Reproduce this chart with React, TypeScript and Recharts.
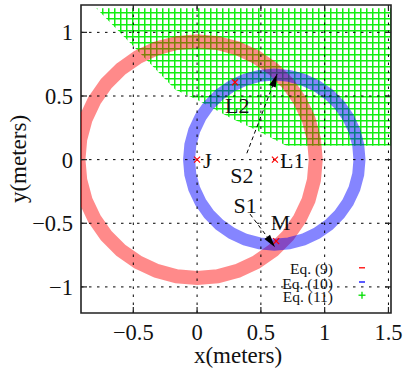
import React from 'react';
import { ComposedChart, Line, Area, Scatter, XAxis, YAxis, ReferenceLine, ReferenceArea, Legend } from 'recharts';

const xTicks = [-0.5, 0, 0.5, 1, 1.5];
const yTicks = [-1, -0.5, 0, 0.5, 1];
const xDomain = [-0.91, 1.52];
const yDomain = [-1.205, 1.215];

// Eq. (9): ring of points around J
const ringEq9 = [
  { x: 0.93, y: 0 }, { x: 0.916, y: 0.161 }, { x: 0.874, y: 0.318 }, { x: 0.805, y: 0.465 },
  { x: 0.712, y: 0.598 }, { x: 0.598, y: 0.712 }, { x: 0.465, y: 0.805 }, { x: 0.318, y: 0.874 },
  { x: 0.161, y: 0.916 }, { x: 0, y: 0.93 }, { x: -0.161, y: 0.916 }, { x: -0.318, y: 0.874 },
  { x: -0.465, y: 0.805 }, { x: -0.598, y: 0.712 }, { x: -0.712, y: 0.598 }, { x: -0.805, y: 0.465 },
  { x: -0.874, y: 0.318 }, { x: -0.916, y: 0.161 }, { x: -0.93, y: 0 }, { x: -0.916, y: -0.161 },
  { x: -0.874, y: -0.318 }, { x: -0.805, y: -0.465 }, { x: -0.712, y: -0.598 }, { x: -0.598, y: -0.712 },
  { x: -0.465, y: -0.805 }, { x: -0.318, y: -0.874 }, { x: -0.161, y: -0.916 }, { x: 0, y: -0.93 },
  { x: 0.161, y: -0.916 }, { x: 0.318, y: -0.874 }, { x: 0.465, y: -0.805 }, { x: 0.598, y: -0.712 },
  { x: 0.712, y: -0.598 }, { x: 0.805, y: -0.465 }, { x: 0.874, y: -0.318 }, { x: 0.916, y: -0.161 },
];

// Eq. (10): ring of points around L1
const ringEq10 = [
  { x: 1.273, y: 0 }, { x: 1.263, y: 0.116 }, { x: 1.233, y: 0.228 }, { x: 1.183, y: 0.334 },
  { x: 1.117, y: 0.429 }, { x: 1.034, y: 0.512 }, { x: 0.939, y: 0.578 }, { x: 0.833, y: 0.628 },
  { x: 0.721, y: 0.658 }, { x: 0.605, y: 0.668 }, { x: 0.489, y: 0.658 }, { x: 0.377, y: 0.628 },
  { x: 0.271, y: 0.578 }, { x: 0.176, y: 0.512 }, { x: 0.093, y: 0.429 }, { x: 0.027, y: 0.334 },
  { x: -0.023, y: 0.228 }, { x: -0.053, y: 0.116 }, { x: -0.063, y: 0 }, { x: -0.053, y: -0.116 },
  { x: -0.023, y: -0.228 }, { x: 0.027, y: -0.334 }, { x: 0.093, y: -0.429 }, { x: 0.176, y: -0.512 },
  { x: 0.271, y: -0.578 }, { x: 0.377, y: -0.628 }, { x: 0.489, y: -0.658 }, { x: 0.605, y: -0.668 },
  { x: 0.721, y: -0.658 }, { x: 0.833, y: -0.628 }, { x: 0.939, y: -0.578 }, { x: 1.034, y: -0.512 },
  { x: 1.117, y: -0.429 }, { x: 1.183, y: -0.334 }, { x: 1.233, y: -0.228 }, { x: 1.263, y: -0.116 },
];

// Eq. (11): lower boundary of the hatched region (region extends up to regionTop)
const regionEq11 = [
  { x: -0.79, y: 1.19 }, { x: -0.45, y: 0.84 }, { x: -0.17, y: 0.55 }, { x: 0.0, y: 0.47 },
  { x: 0.26, y: 0.33 }, { x: 0.49, y: 0.22 }, { x: 0.7, y: 0.11 }, { x: 1.52, y: 0.11 },
];
const regionTop = 1.19;

const markers = [
  { x: 0, y: 0 }, { x: 0.61, y: 0 }, { x: 0.297, y: 0.608 }, { x: 0.62, y: -0.64 },
];
const labels = [
  { x: 0.047, y: -0.069, text: 'J' },
  { x: 0.65, y: -0.069, text: 'L1' },
  { x: 0.219, y: 0.363, text: 'L2' },
  { x: 0.26, y: -0.185, text: 'S2' },
  { x: 0.285, y: -0.423, text: 'S1' },
  { x: 0.578, y: -0.554, text: 'M' },
];
const arrowS1 = [{ x: 0.415, y: -0.428 }, { x: 0.611, y: -0.688 }];
const arrowS2 = [{ x: 0.39, y: 0.05 }, { x: 0.627, y: 0.672 }];
const arrowHeads = [
  { x: 0.611, y: -0.688, fx: 0.415, fy: -0.428 },
  { x: 0.627, y: 0.672, fx: 0.39, fy: 0.05 },
];
const legendItems = [
  { name: 'Eq. (9)', color: '#ff0000', symbol: 'dash' },
  { name: 'Eq. (10)', color: '#0000ff', symbol: 'dash' },
  { name: 'Eq. (11)', color: '#00dd00', symbol: 'plus' },
];

const W = 403;
const H = 370;
const AXW = 81;
const AXH = 57;
const M = { top: 5, right: 12, bottom: 0, left: 0 };
const PW = W - AXW - M.right;
const PH = H - M.top - AXH;
const FONT = '"Liberation Serif", "Times New Roman", serif';

const fmt = (v: number) => (v < 0 ? '\u2212' + String(Math.abs(v)) : String(v));

const XTick = (props: any) => {
  const { x, y, payload } = props;
  return (
    <g>
      <line x1={x} x2={x} y1={y} y2={y - 6} stroke="#222" strokeWidth={1.2} />
      <line x1={x} x2={x} y1={y - PH} y2={y - PH + 6} stroke="#222" strokeWidth={1.2} />
      <text x={x} y={y + 27} textAnchor="middle" fontFamily={FONT} fontSize={22.5} fill="#111">
        {fmt(payload.value)}
      </text>
    </g>
  );
};

const YTick = (props: any) => {
  const { x, y, payload } = props;
  return (
    <g>
      <line x1={x} x2={x + 6} y1={y} y2={y} stroke="#222" strokeWidth={1.2} />
      <line x1={x + PW} x2={x + PW - 6} y1={y} y2={y} stroke="#222" strokeWidth={1.2} />
      <text x={x - 8} y={y + 8} textAnchor="end" fontFamily={FONT} fontSize={22.5} fill="#111">
        {fmt(payload.value)}
      </text>
    </g>
  );
};

const CrossShape = (p: any) => {
  const { cx, cy } = p;
  const s = 3;
  return (
    <g stroke="#ff0000" strokeWidth={1.2}>
      <line x1={cx - s} y1={cy - s} x2={cx + s} y2={cy + s} />
      <line x1={cx - s} y1={cy + s} x2={cx + s} y2={cy - s} />
    </g>
  );
};

const LabelShape = (p: any) => {
  const { cx, cy, payload } = p;
  return (
    <text x={cx} y={cy} fontFamily={FONT} fontSize={22} fill="#111">
      {payload.text}
    </text>
  );
};

const HeadShape = (p: any) => {
  const { cx, cy, payload } = p;
  let dx = payload.x - payload.fx;
  let dy = -(payload.y - payload.fy);
  const n = Math.sqrt(dx * dx + dy * dy) || 1;
  dx /= n;
  dy /= n;
  const L = 13;
  const hw = 3.5;
  const bx = cx - dx * L;
  const by = cy - dy * L;
  const pts = `${cx},${cy} ${bx - dy * hw},${by + dx * hw} ${bx + dy * hw},${by - dx * hw}`;
  return <polygon points={pts} fill="#000" />;
};

const LegendBox = () => {
  const textX = 83;
  const symX = 112;
  const baselines = [18.3, 32.5, 45.7];
  return (
    <svg width={130} height={52} style={{ overflow: 'visible' }}>
      {legendItems.map((it, i) => (
        <g key={it.name}>
          <text x={textX} y={baselines[i]} textAnchor="end" fontFamily={FONT} fontSize={15.5} fill="#111">
            {it.name}
          </text>
          {it.symbol === 'dash' ? (
            <line x1={symX - 3} x2={symX + 3} y1={baselines[i] - 6.5} y2={baselines[i] - 6.5} stroke={it.color} strokeWidth={1.3} />
          ) : (
            <g stroke={it.color} strokeWidth={1.3}>
              <line x1={symX - 3.5} x2={symX + 3.5} y1={baselines[i] - 6.5} y2={baselines[i] - 6.5} />
              <line x1={symX} x2={symX} y1={baselines[i] - 10} y2={baselines[i] - 3} />
            </g>
          )}
        </g>
      ))}
    </svg>
  );
};

const renderXTick = (p: any) => <XTick {...p} />;
const renderYTick = (p: any) => <YTick {...p} />;

export default function App() {
  return (
    <div style={{ position: 'absolute', left: 0, top: 0, width: W, height: H, background: '#fff', fontFamily: FONT }}>
      <svg width={0} height={0} style={{ position: 'absolute' }}>
        <defs>
          <pattern id="hatch11" patternUnits="userSpaceOnUse" width={6} height={6}>
            <rect x={0} y={0} width={1.5} height={6} fill="#11ee11" />
            <rect x={0} y={0} width={6} height={1.5} fill="#11ee11" />
          </pattern>
        </defs>
      </svg>
      <ComposedChart width={W} height={H} margin={M}>
        <XAxis
          type="number"
          dataKey="x"
          domain={xDomain}
          allowDataOverflow
          ticks={xTicks}
          height={AXH}
          tickSize={0}
          tickMargin={0}
          tick={renderXTick}
          axisLine={false}
          tickLine={false}
          interval={0}
        />
        <YAxis
          type="number"
          dataKey="y"
          domain={yDomain}
          allowDataOverflow
          ticks={yTicks}
          width={AXW}
          tickSize={0}
          tickMargin={0}
          tick={renderYTick}
          axisLine={false}
          tickLine={false}
          interval={0}
        />
        <Area
          data={regionEq11}
          dataKey="y"
          type="linear"
          baseValue={regionTop}
          stroke="none"
          fill="url(#hatch11)"
          fillOpacity={1}
          isAnimationActive={false}
          dot={false}
          activeDot={false}
        />
        <Line
          data={ringEq9}
          dataKey="y"
          type="linearClosed"
          stroke="#ff0000"
          strokeOpacity={0.46}
          strokeWidth={14}
          dot={false}
          activeDot={false}
          isAnimationActive={false}
        />
        <Line
          data={ringEq10}
          dataKey="y"
          type="linearClosed"
          stroke="#0000ff"
          strokeOpacity={0.48}
          strokeWidth={12}
          dot={false}
          activeDot={false}
          isAnimationActive={false}
        />
        {xTicks.map((v) => (
          <ReferenceLine key={'gx' + v} x={v} stroke="#000" strokeWidth={1} strokeDasharray="2.5 5.5" />
        ))}
        {yTicks.map((v) => (
          <ReferenceLine key={'gy' + v} y={v} stroke="#000" strokeWidth={1} strokeDasharray="2.5 5.5" />
        ))}
        <Line data={arrowS1} dataKey="y" type="linear" stroke="#000" strokeWidth={1} strokeDasharray="4 3" dot={false} activeDot={false} isAnimationActive={false} />
        <Line data={arrowS2} dataKey="y" type="linear" stroke="#000" strokeWidth={1} strokeDasharray="4 3" dot={false} activeDot={false} isAnimationActive={false} />
        <Scatter data={markers} shape={CrossShape} isAnimationActive={false} />
        <Scatter data={arrowHeads} shape={HeadShape} isAnimationActive={false} />
        <Scatter data={labels} shape={LabelShape} isAnimationActive={false} />
        <ReferenceArea
          x1={xDomain[0]}
          x2={xDomain[1]}
          y1={yDomain[0]}
          y2={yDomain[1]}
          fill="none"
          fillOpacity={0}
          stroke="#222"
          strokeWidth={1.6}
          ifOverflow="visible"
        />
        <Legend
          layout="vertical"
          align="center"
          verticalAlign="middle"
          content={<LegendBox />}
          wrapperStyle={{ position: 'absolute', left: 250, top: 256, width: 130, height: 52 }}
        />
      </ComposedChart>
      <div
        style={{
          position: 'absolute',
          left: 183,
          top: 343,
          width: 110,
          textAlign: 'center',
          fontFamily: FONT,
          fontSize: 23,
          lineHeight: '26px',
          color: '#111',
          whiteSpace: 'nowrap',
        }}
      >
        x(meters)
      </div>
      <div
        style={{
          position: 'absolute',
          left: 19 - 60,
          top: 159 - 13,
          width: 120,
          height: 26,
          textAlign: 'center',
          fontFamily: FONT,
          fontSize: 23,
          lineHeight: '26px',
          color: '#111',
          whiteSpace: 'nowrap',
          transform: 'rotate(-90deg)',
        }}
      >
        y(meters)
      </div>
    </div>
  );
}
